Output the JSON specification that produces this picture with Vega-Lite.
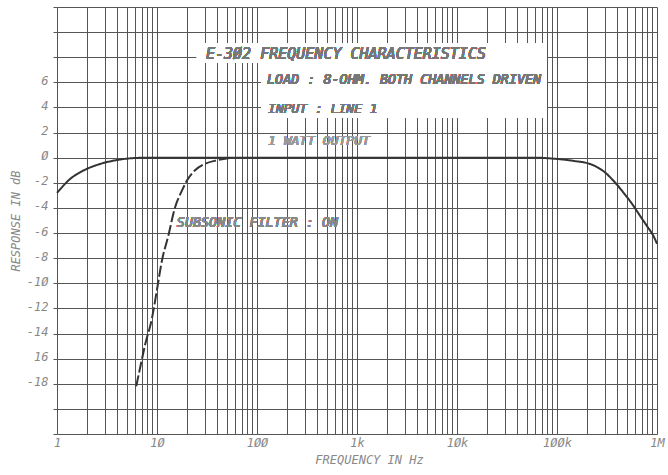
{
  "$schema": "https://vega.github.io/schema/vega-lite/v6.json",
  "width": 600,
  "height": 427,
  "autosize": {"type": "none"},
  "padding": {"left": 57, "top": 7, "right": 11, "bottom": 41},
  "background": "white",
  "config": {"view": {"stroke": null}, "font": "DejaVu Sans Mono"},
  "datasets": {
    "curves": [
      {"freq": 1, "db": -2.8, "series": "FILTER OFF"},
      {"freq": 1.35, "db": -1.7, "series": "FILTER OFF"},
      {"freq": 1.83, "db": -1.03, "series": "FILTER OFF"},
      {"freq": 2.7, "db": -0.5, "series": "FILTER OFF"},
      {"freq": 3.95, "db": -0.19, "series": "FILTER OFF"},
      {"freq": 5.4, "db": -0.05, "series": "FILTER OFF"},
      {"freq": 8, "db": 0, "series": "FILTER OFF"},
      {"freq": 100, "db": 0, "series": "FILTER OFF"},
      {"freq": 1000, "db": 0, "series": "FILTER OFF"},
      {"freq": 10000, "db": 0, "series": "FILTER OFF"},
      {"freq": 60000, "db": 0, "series": "FILTER OFF"},
      {"freq": 100000, "db": -0.1, "series": "FILTER OFF"},
      {"freq": 145000, "db": -0.25, "series": "FILTER OFF"},
      {"freq": 214000, "db": -0.5, "series": "FILTER OFF"},
      {"freq": 302000, "db": -1.17, "series": "FILTER OFF"},
      {"freq": 380000, "db": -1.97, "series": "FILTER OFF"},
      {"freq": 460000, "db": -2.76, "series": "FILTER OFF"},
      {"freq": 580000, "db": -3.82, "series": "FILTER OFF"},
      {"freq": 676000, "db": -4.62, "series": "FILTER OFF"},
      {"freq": 789000, "db": -5.41, "series": "FILTER OFF"},
      {"freq": 918000, "db": -6.21, "series": "FILTER OFF"},
      {"freq": 1000000, "db": -6.85, "series": "FILTER OFF"},
      {"freq": 6.2, "db": -18.2, "series": "FILTER ON"},
      {"freq": 7, "db": -16.2, "series": "FILTER ON"},
      {"freq": 7.6, "db": -14.9, "series": "FILTER ON"},
      {"freq": 8.9, "db": -12.8, "series": "FILTER ON"},
      {"freq": 10, "db": -10.5, "series": "FILTER ON"},
      {"freq": 11.2, "db": -8.2, "series": "FILTER ON"},
      {"freq": 12.9, "db": -6.3, "series": "FILTER ON"},
      {"freq": 15.1, "db": -4.0, "series": "FILTER ON"},
      {"freq": 17.8, "db": -2.6, "series": "FILTER ON"},
      {"freq": 20, "db": -1.8, "series": "FILTER ON"},
      {"freq": 24, "db": -1.0, "series": "FILTER ON"},
      {"freq": 29, "db": -0.55, "series": "FILTER ON"},
      {"freq": 40, "db": -0.2, "series": "FILTER ON"},
      {"freq": 55, "db": 0, "series": "FILTER ON"}
    ]
  },
  "data": {"name": "curves"},
  "resolve": {"axis": {"x": "independent", "y": "independent"}},
  "layer": [
    {
      "mark": {"type": "line", "color": "#333333", "strokeWidth": 2, "interpolate": "monotone"},
      "encoding": {
        "x": {
          "field": "freq", "type": "quantitative",
          "scale": {"type": "log", "domain": [1, 1000000], "nice": false},
          "axis": {
            "values": [1,2,3,4,5,6,7,8,9,10,20,30,40,50,60,70,80,90,100,200,300,400,500,600,700,800,900,1000,2000,3000,4000,5000,6000,7000,8000,9000,10000,20000,30000,40000,50000,60000,70000,80000,90000,100000,200000,300000,400000,500000,600000,700000,800000,900000,1000000],
            "labelExpr": "datum.value==1?'1':datum.value==10?'1Ø':datum.value==100?'1ØØ':datum.value==1000?'1k':datum.value==10000?'1Øk':datum.value==100000?'1ØØk':datum.value==1000000?'1M':''",
            "grid": true, "gridColor": "#555555", "gridWidth": 1, "gridOpacity": 1,
            "ticks": false, "domain": false,
            "labelFont": "DejaVu Sans Mono", "labelFontStyle": "italic", "labelFontSize": 12, "labelColor": "#888888", "labelPadding": 3,
            "labelOverlap": false, "labelFlush": false,
            "title": "FREQUENCY IN Hz", "titleFont": "DejaVu Sans Mono", "titleFontStyle": "italic", "titleFontWeight": "normal",
            "titleFontSize": 12, "titleColor": "#888888", "titlePadding": 6, "titleX": 312
          }
        },
        "y": {
          "field": "db", "type": "quantitative",
          "scale": {"domain": [-22, 12], "nice": false, "zero": false},
          "axis": {
            "values": [-22,-20,-18,-16,-14,-12,-10,-8,-6,-4,-2,0,2,4,6,8,10,12],
            "labelExpr": "datum.value==0?'Ø':datum.value==-10?'-1Ø':datum.value==-16?'16':(datum.value>=-18&&datum.value<=6)?''+datum.value:''",
            "grid": true, "gridColor": "#555555", "gridWidth": 1, "gridOpacity": 1,
            "ticks": true, "tickSize": 4, "tickColor": "#555555", "domain": false,
            "labelFont": "DejaVu Sans Mono", "labelFontStyle": "italic", "labelFontSize": 12, "labelColor": "#888888", "labelPadding": 5, "labelOffset": -2,
            "labelOverlap": false, "labelFlush": false,
            "title": "RESPONSE IN dB", "titleFont": "DejaVu Sans Mono", "titleFontStyle": "italic", "titleFontWeight": "normal",
            "titleFontSize": 12, "titleColor": "#888888", "titlePadding": 4
          }
        },
        "strokeDash": {
          "field": "series", "type": "nominal",
          "scale": {"domain": ["FILTER OFF", "FILTER ON"], "range": [[1, 0], [11, 3]]},
          "legend": null
        }
      }
    },
    {
      "mark": {"type": "rect", "color": "white"},
      "encoding": {
        "x": {"datum": 25.1, "type": "quantitative", "scale": {"type": "log", "domain": [1, 1000000], "nice": false}, "axis": null},
        "x2": {"datum": 79400},
        "y": {"datum": 7.56, "type": "quantitative", "scale": {"domain": [-22, 12], "nice": false, "zero": false}, "axis": null},
        "y2": {"datum": 9.08}
      }
    },
    {
      "mark": {"type": "rect", "color": "white"},
      "encoding": {
        "x": {"datum": 112, "type": "quantitative", "scale": {"type": "log", "domain": [1, 1000000], "nice": false}, "axis": null},
        "x2": {"datum": 79400},
        "y": {"datum": 3.18, "type": "quantitative", "scale": {"domain": [-22, 12], "nice": false, "zero": false}, "axis": null},
        "y2": {"datum": 7.6}
      }
    },
    {
      "mark": {"type": "text", "text": "E-3Ø2 FREQUENCY CHARACTERISTICS", "align": "left", "baseline": "middle", "font": "DejaVu Sans Mono", "fontStyle": "italic", "fontSize": 15, "color": "#777777"},
      "encoding": {
        "x": {"datum": 30.9, "type": "quantitative", "scale": {"type": "log", "domain": [1, 1000000], "nice": false}, "axis": null},
        "y": {"datum": 8.28, "type": "quantitative", "scale": {"domain": [-22, 12], "nice": false, "zero": false}, "axis": null}
      }
    },
    {
      "mark": {"type": "text", "text": "LOAD : 8-OHM. BOTH CHANNELS DRIVEN", "align": "left", "baseline": "middle", "font": "DejaVu Sans Mono", "fontStyle": "italic", "fontSize": 13.4, "color": "#777777"},
      "encoding": {
        "x": {"datum": 126, "type": "quantitative", "scale": {"type": "log", "domain": [1, 1000000], "nice": false}, "axis": null},
        "y": {"datum": 6.2, "type": "quantitative", "scale": {"domain": [-22, 12], "nice": false, "zero": false}, "axis": null}
      }
    },
    {
      "mark": {"type": "text", "text": "INPUT : LINE 1", "align": "left", "baseline": "middle", "font": "DejaVu Sans Mono", "fontStyle": "italic", "fontSize": 13, "color": "#777777"},
      "encoding": {
        "x": {"datum": 129, "type": "quantitative", "scale": {"type": "log", "domain": [1, 1000000], "nice": false}, "axis": null},
        "y": {"datum": 3.9, "type": "quantitative", "scale": {"domain": [-22, 12], "nice": false, "zero": false}, "axis": null}
      }
    },
    {
      "mark": {"type": "text", "text": "1 WATT OUTPUT", "align": "left", "baseline": "middle", "font": "DejaVu Sans Mono", "fontStyle": "italic", "fontSize": 13, "color": "#999999"},
      "encoding": {
        "x": {"datum": 129, "type": "quantitative", "scale": {"type": "log", "domain": [1, 1000000], "nice": false}, "axis": null},
        "y": {"datum": 1.35, "type": "quantitative", "scale": {"domain": [-22, 12], "nice": false, "zero": false}, "axis": null}
      }
    },
    {
      "mark": {"type": "text", "text": "SUBSONIC FILTER : ON", "align": "left", "baseline": "middle", "font": "DejaVu Sans Mono", "fontStyle": "italic", "fontSize": 13.4, "color": "#888888"},
      "encoding": {
        "x": {"datum": 15.8, "type": "quantitative", "scale": {"type": "log", "domain": [1, 1000000], "nice": false}, "axis": null},
        "y": {"datum": -5.2, "type": "quantitative", "scale": {"domain": [-22, 12], "nice": false, "zero": false}, "axis": null}
      }
    }
  ]
}
